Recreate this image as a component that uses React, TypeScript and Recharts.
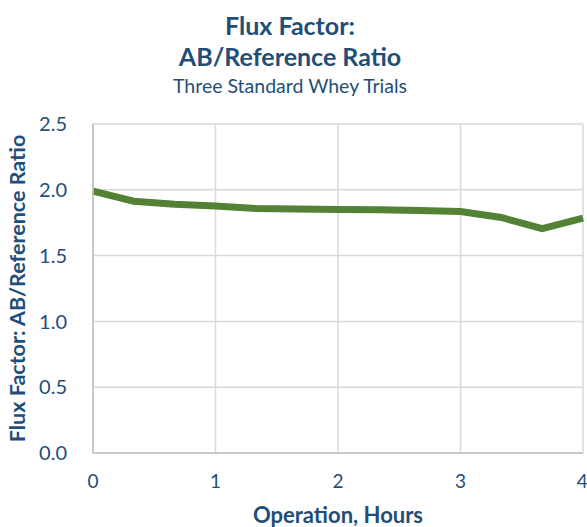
import { CartesianGrid, Line, LineChart, XAxis, YAxis } from 'recharts';

const hours = [0, 0.333, 0.667, 1, 1.333, 1.667, 2, 2.333, 2.667, 3, 3.333, 3.667, 4];
const ratio = [1.99, 1.913, 1.89, 1.877, 1.858, 1.855, 1.85, 1.848, 1.842, 1.835, 1.79, 1.705, 1.785];
const xTicks = [0, 1, 2, 3, 4];
const yTicks = [0, 0.5, 1, 1.5, 2, 2.5];

const data = hours.map((h, i) => ({ hours: h, ratio: ratio[i] }));

const blue = '#1F4E79';
const font = 'Lato, "Open Sans", sans-serif';

export default function App() {
    return (
        <div style={{ position: 'absolute', left: 0, top: 0, width: 587, height: 527, fontFamily: font }}>
            <div
                style={{
                    position: 'absolute',
                    left: 0,
                    width: 580,
                    top: 10,
                    textAlign: 'center',
                    color: blue,
                    fontWeight: 700,
                    fontSize: 25,
                    lineHeight: '31px',
                }}
            >
                Flux Factor:
                <br />
                AB/Reference Ratio
            </div>
            <div
                style={{
                    position: 'absolute',
                    left: 0,
                    width: 580,
                    top: 74,
                    textAlign: 'center',
                    color: blue,
                    fontSize: 19.5,
                }}
            >
                Three Standard Whey Trials
            </div>
            <LineChart width={587} height={527} data={data} margin={{ top: 124, right: 4, bottom: 0, left: 0 }}>
                <CartesianGrid stroke="#d9d9d9" strokeWidth={1.5} />
                <XAxis
                    dataKey="hours"
                    type="number"
                    domain={[0, 4]}
                    ticks={xTicks}
                    height={74}
                    tickLine={false}
                    axisLine={{ stroke: '#bfbfbf', strokeWidth: 1.5 }}
                    tickMargin={16}
                    tick={{ fill: blue, fontSize: 19, fontFamily: font }}
                    label={{
                        value: 'Operation, Hours',
                        position: 'insideBottom',
                        offset: 4,
                        fill: blue,
                        fontSize: 22,
                        fontWeight: 700,
                        fontFamily: font,
                    }}
                />
                <YAxis
                    type="number"
                    domain={[0, 2.5]}
                    ticks={yTicks}
                    width={93}
                    tickLine={false}
                    axisLine={{ stroke: '#bfbfbf', strokeWidth: 1.5 }}
                    tickMargin={20}
                    tickFormatter={(v: number) => v.toFixed(1)}
                    tick={{ fill: blue, fontSize: 20, fontFamily: font }}
                    label={{
                        value: 'Flux Factor: AB/Reference Ratio',
                        angle: -90,
                        position: 'insideLeft',
                        offset: 17,
                        style: { textAnchor: 'middle' },
                        fill: blue,
                        fontSize: 21.5,
                        fontWeight: 700,
                        fontFamily: font,
                    }}
                />
                <Line
                    type="linear"
                    dataKey="ratio"
                    stroke="#548235"
                    strokeWidth={7}
                    dot={false}
                    isAnimationActive={false}
                />
            </LineChart>
        </div>
    );
}
